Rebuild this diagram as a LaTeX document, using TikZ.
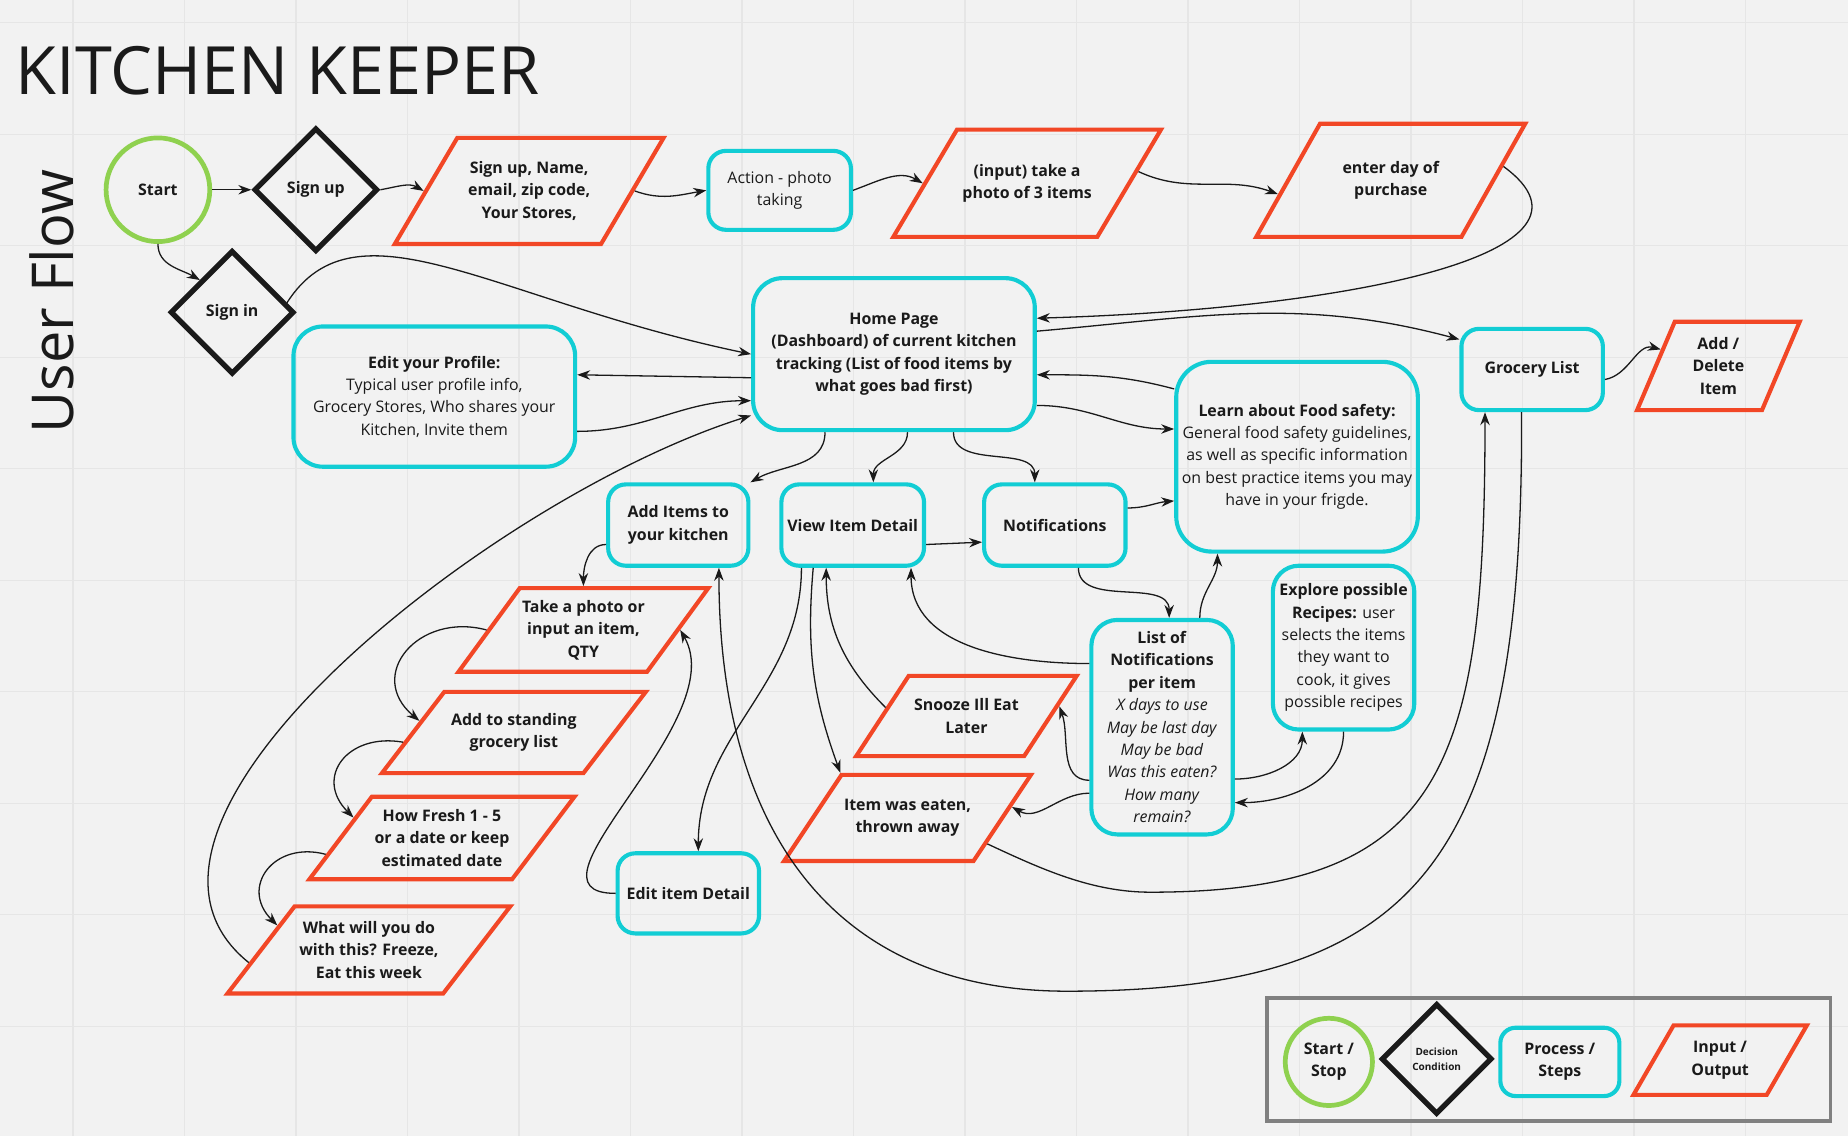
\documentclass[tikz,border=0pt]{standalone}
\usepackage{fontspec}
\setmainfont{Open Sans}
\usetikzlibrary{shapes.geometric, arrows.meta, positioning}

\definecolor{kkcyan}{HTML}{12CDD4}
\definecolor{kkred}{HTML}{F24726}
\definecolor{kkgreen}{HTML}{8FD14F}
\definecolor{kkink}{HTML}{1A1A1A}
\definecolor{kkboard}{HTML}{F2F2F2}
\definecolor{kkgrid}{HTML}{E6E6E6}
\definecolor{kkframe}{HTML}{808080}

\newcommand{\kktext}{\fontsize{13.5}{19}\selectfont}
% text block of an input/output shape: width, height, lines
\newcommand{\iotext}[3]{\parbox[c][#2][c]{#1}{\centering #3}}

\tikzset{
  startstop/.style={circle, draw=kkgreen, line width=4pt, align=center, text=kkink, font=\kktext\bfseries, inner sep=0pt},
  decision/.style={diamond, aspect=1, draw=kkink, line width=4.5pt, align=center, text=kkink, font=\kktext\bfseries, inner sep=0pt},
  process/.style={rectangle, draw=kkcyan, line width=3.5pt, rounded corners=15pt, align=center, text=kkink, font=\kktext\bfseries, inner sep=2pt},
  inout/.style={trapezium, draw=kkred, line width=3.5pt, text=kkink, font=\kktext\bfseries, inner sep=0pt},
  flow/.style={-{Stealth[length=11pt,width=8pt]}, line width=1.1pt, draw=kkink},
}

\begin{document}
\begin{tikzpicture}[x=1pt, y=1pt]
% board and grid
\useasboundingbox (0,0) rectangle (1568,-964);
\fill[kkboard] (0,0) rectangle (1568,-964);
\foreach \gx in {62,156.6,...,1568} \draw[kkgrid, line width=1pt] (\gx,0) -- (\gx,-964);
\foreach \gy in {19.3,113.9,...,964} \draw[kkgrid, line width=1pt] (0,-\gy) -- (1568,-\gy);

% titles
\node[anchor=base west, inner sep=0pt, text=kkink, font=\fontsize{56.5}{64}\selectfont] (title) at (13,-80) {KITCHEN KEEPER};
\node[anchor=base west, rotate=90, inner sep=0pt, text=kkink, font=\fontsize{49}{56}\selectfont] (flowtitle) at (62,-368) {User Flow};

% sign up row
\node[startstop, minimum size=88pt] (start) at (134,-161) {Start};
\node[decision, minimum size=105pt] (signup) at (268,-161) {Sign up};
\node[decision, minimum size=105pt] (signin) at (197,-265) {Sign in};
\node[inout, trapezium left angle=59.5, trapezium right angle=120.5] (signupio) at (449,-162) {\iotext{122pt}{90pt}{Sign up, Name,\\email, zip code,\\Your Stores,}};
\node[process, font=\kktext, minimum width=121pt, minimum height=67pt] (action) at (661.5,-161.5) {Action - photo\\taking};
\node[inout, trapezium left angle=59.3, trapezium right angle=120.7] (inputio) at (871.5,-155.5) {\iotext{119pt}{91pt}{(input) take a\\photo of 3 items}};
\node[inout, trapezium left angle=60.6, trapezium right angle=119.4] (dayio) at (1180,-153) {\iotext{120pt}{96pt}{enter day of\\purchase}};

% home page and neighbours
\node[process, rounded corners=25pt, minimum width=239pt, minimum height=129pt] (home) at (758.5,-300.5) {Home Page\\(Dashboard) of current kitchen\\tracking (List of food items by\\what goes bad first)};
\node[process, font=\kktext, rounded corners=25pt, minimum width=239pt, minimum height=119pt] (profile) at (368.5,-336.5) {\textbf{Edit your Profile:}\\Typical user profile info,\\Grocery Stores, Who shares your\\Kitchen, Invite them};
\node[process, font=\kktext, rounded corners=30pt, minimum width=205pt, minimum height=161pt] (learn) at (1100.5,-387.5) {\textbf{Learn about Food safety:}\\General food safety guidelines,\\as well as specific information\\on best practice items you may\\have in your frigde.};
\node[process, minimum width=120pt, minimum height=69pt] (grocery) at (1300,-313.5) {Grocery List};
\node[inout, trapezium left angle=66.9, trapezium right angle=113.1] (addio) at (1458,-310.5) {\iotext{74pt}{75pt}{Add /\\Delete\\Item}};

% second row
\node[process, minimum width=119pt, minimum height=69pt] (additems) at (575.5,-445.5) {Add Items to\\your kitchen};
\node[process, minimum width=121pt, minimum height=69pt] (view) at (723.5,-445.5) {View Item Detail};
\node[process, minimum width=120pt, minimum height=69pt] (notif) at (895,-445.5) {Notifications};
\node[process, font=\kktext, rounded corners=22pt, minimum width=120pt, minimum height=182pt] (listnotif) at (986,-617) {\textbf{List of}\\\textbf{Notifications}\\\textbf{per item}\\\textit{X days to use}\\\textit{May be last day}\\\textit{May be bad}\\\textit{Was this eaten?}\\\textit{How many}\\\textit{remain?}};
\node[process, font=\kktext, rounded corners=22pt, minimum width=120pt, minimum height=139pt] (recipes) at (1140,-549.5) {\textbf{Explore possible}\\\textbf{Recipes:} user\\selects the items\\they want to\\cook, it gives\\possible recipes};
\node[process, minimum width=120pt, minimum height=68pt] (editdetail) at (584,-758) {Edit item Detail};
\node[inout, trapezium left angle=56.8, trapezium right angle=123.2] (snoozeio) at (820,-607.5) {\iotext{98pt}{68pt}{Snooze Ill Eat\\Later}};
\node[inout, trapezium left angle=56.3, trapezium right angle=123.7] (eatenio) at (770,-694) {\iotext{112pt}{73pt}{Item was eaten,\\thrown away}};

% adding items
\node[inout, trapezium left angle=53.8, trapezium right angle=126.2] (photoio) at (495,-534.5) {\iotext{108pt}{71pt}{Take a photo or\\input an item,\\QTY}};
\node[inout, trapezium left angle=52.5, trapezium right angle=127.5] (standio) at (436,-621.5) {\iotext{118pt}{69pt}{Add to standing\\grocery list}};
\node[inout, trapezium left angle=52.9, trapezium right angle=127.1] (freshio) at (375,-711) {\iotext{119pt}{70pt}{How Fresh 1 - 5\\or a date or keep\\estimated date}};
\node[inout, trapezium left angle=52.4, trapezium right angle=127.6] (whatio) at (313,-806) {\iotext{126pt}{74pt}{What will you do\\with this? Freeze,\\Eat this week}};

% legend
\node[draw=kkframe, line width=3pt, minimum width=478pt, minimum height=104pt] (legend) at (1314,-899) {};
\node[startstop, minimum size=74pt] (lstart) at (1127.5,-901) {Start /\\Stop};
\node[decision, minimum size=94pt, font=\fontsize{8.5}{13}\selectfont\bfseries] (ldecision) at (1219,-898.5) {Decision\\Condition};
\node[process, rounded corners=13pt, minimum width=101pt, minimum height=58pt] (lprocess) at (1323.5,-901) {Process /\\Steps};
\node[inout, trapezium left angle=60, trapezium right angle=120] (lio) at (1459.5,-899.5) {\iotext{79pt}{59pt}{Input /\\Output}};

\coordinate (eatdip) at (976,-757);
\coordinate (grocdip) at (905,-841);

% connectors
\draw[flow] (start.east) -- (signup.west);
\draw[flow] (start.south) to[out=-90,in=150] (signin.north west);
\draw[flow] (signup.east) to[out=10,in=150] (signupio.west);
\draw[flow] (signupio.east) to[out=-20,in=190] (action.west);
\draw[flow] (action.east) to[out=20,in=150] (inputio.west);
\draw[flow] (inputio.6) to[out=-25,in=160] (dayio.187);
\draw[flow] (dayio.7) .. controls +(100,-73) and +(270,8) .. ([yshift=30.5pt]home.east);
\draw[flow] ([yshift=19.5pt]home.east) to[out=5,in=165] ([yshift=25.5pt]grocery.west);
\draw[flow] ([yshift=-8.5pt]grocery.east) to[out=10,in=165] (addio.164);
\draw[flow] (signin.10) .. controls +(59,92) and +(-217,45) .. (home.west);
\draw[flow] ([yshift=-20pt]home.west) -- ([yshift=18.5pt]profile.east);
\draw[flow] ([yshift=-29.5pt]profile.east) to[out=0,in=180] ([yshift=-39.5pt]home.west);
\draw[flow] (whatio.186) .. controls +(-147,118) and +(-217,-68) .. ([yshift=-52pt]home.west);
\draw[flow] ([yshift=57.5pt]learn.west) to[out=165,in=0] ([yshift=-17.5pt]home.east);
\draw[flow] ([yshift=-43.5pt]home.east) to[out=0,in=180] ([yshift=23.5pt]learn.west);
\draw[flow] ([xshift=-58.5pt]home.south) to[out=-90,in=30] (additems.north east);
\draw[flow] ([xshift=11.5pt]home.south) to[out=-90,in=90] ([xshift=17.5pt]view.north);
\draw[flow] ([xshift=50.5pt]home.south) to[out=-90,in=90] ([xshift=-17pt]notif.north);
\draw[flow] ([yshift=-16.5pt]view.east) -- ([yshift=-14.5pt]notif.west);
\draw[flow] ([yshift=14.5pt]notif.east) to[out=0,in=185] ([yshift=-37.5pt]learn.west);
\draw[flow] ([xshift=20pt]notif.south) to[out=-90,in=90] ([xshift=6pt]listnotif.north);
\draw[flow] ([xshift=32pt]listnotif.north) to[out=90,in=-90] ([xshift=-67.5pt]learn.south);
\draw[flow] ([yshift=54pt]listnotif.west) to[out=180,in=-90] ([xshift=49.5pt]view.south);
\draw[flow] ([yshift=-45pt]listnotif.west) to[out=180,in=-70] (snoozeio.6);
\draw[flow] ([yshift=-56pt]listnotif.west) to[out=180,in=-30] (eatenio.6);
\draw[flow] ([yshift=-44pt]listnotif.east) to[out=0,in=-90] ([xshift=-35pt]recipes.south);
\draw[flow] (recipes.south) to[out=-90,in=0] ([yshift=-64pt]listnotif.east);
\draw[flow] (snoozeio.174) to[out=135,in=-90] ([xshift=-22.5pt]view.south);
\draw[flow] ([xshift=-33.5pt]view.south) to[out=-95,in=110] (eatenio.top left corner);
\draw[flow] ([xshift=-43.5pt]view.south) to[out=-90,in=90] ([xshift=8.5pt]editdetail.north);
\draw[flow] (eatenio.-18) .. controls +(45,-21) and +(-50,0) .. (eatdip) .. controls +(250,0) and +(0,-300) .. ([xshift=-40pt]grocery.south);
\draw[flow] ([xshift=-9pt]grocery.south) .. controls +(2,-380) and +(300,0) .. (grocdip) .. controls +(-200,0) and +(0,-220) .. ([xshift=34.5pt]additems.south);
\draw[flow] (editdetail.west) to[out=180,in=-60] (photoio.east);
\draw[flow] ([yshift=-16.5pt]additems.west) to[out=180,in=90] (photoio.north);
\draw[flow] (photoio.west) to[out=165,in=140,looseness=1.6] (standio.173);
\draw[flow] (standio.185) to[out=170,in=135,looseness=1.6] (freshio.167);
\draw[flow] (freshio.188) to[out=165,in=135,looseness=1.6] (whatio.165);
\end{tikzpicture}
\end{document}
